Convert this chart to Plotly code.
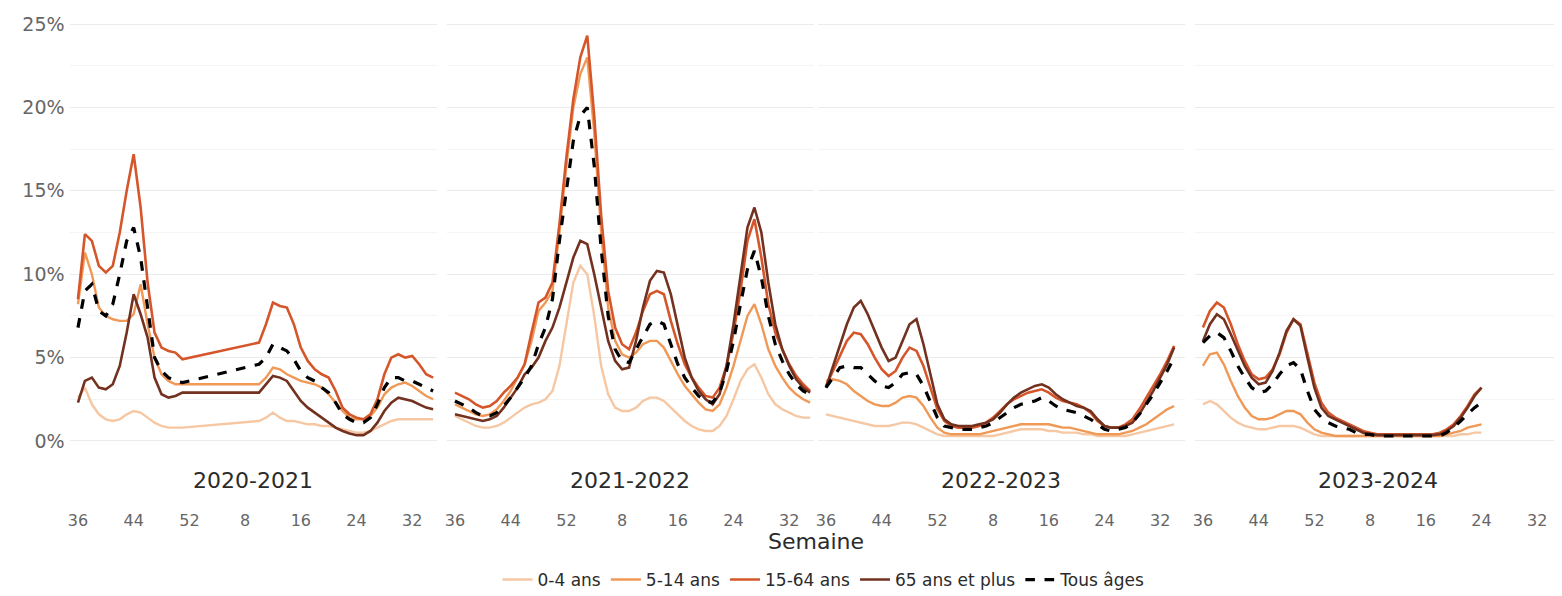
import plotly.graph_objects as go
from plotly.subplots import make_subplots

seasons = ["2020-2021", "2021-2022", "2022-2023", "2023-2024"]
groups = ["0-4 ans", "5-14 ans", "15-64 ans", "65 ans et plus", "Tous âges"]
tick_pos = [0, 8, 16, 24, 32, 40, 48]
tick_text = ["36", "44", "52", "8", "16", "24", "32"]
y_ticks = [0, 5, 10, 15, 20, 25]
y_text = ["0%", "5%", "10%", "15%", "20%", "25%"]

N = None
# 2020-2021 (weeks 36 -> 35, gap in winter)
s1_04 = [2.6, 3.2, 2.2, 1.6, 1.3, 1.2, 1.3, 1.6, 1.8, 1.7, 1.4, 1.1, 0.9, 0.8, 0.8, 0.8,
         N, N, N, N, N, N, N, N, N, N,
         1.2, 1.4, 1.7, 1.4, 1.2, 1.2, 1.1, 1.0, 1.0, 0.9, 0.9, 0.8, 0.7, 0.6, 0.5, 0.5,
         0.6, 0.8, 1.0, 1.2, 1.3, 1.3, 1.3, 1.3, 1.3, 1.3]
s1_514 = [8.2, 11.3, 10.0, 8.0, 7.5, 7.3, 7.2, 7.2, 7.6, 9.4, 7.0, 5.0, 4.0, 3.6, 3.4, 3.4,
          N, N, N, N, N, N, N, N, N, N,
          3.4, 3.8, 4.4, 4.3, 4.0, 3.8, 3.6, 3.5, 3.4, 3.2, 2.8, 2.3, 1.8, 1.4, 1.3, 1.3,
          1.5, 2.0, 2.8, 3.2, 3.4, 3.5, 3.3, 3.0, 2.7, 2.5]
s1_1564 = [8.5, 12.4, 12.0, 10.5, 10.1, 10.5, 12.5, 15.0, 17.2, 14.0, 9.5, 6.5, 5.6, 5.4, 5.3, 4.9,
           N, N, N, N, N, N, N, N, N, N,
           5.9, 7.0, 8.3, 8.1, 8.0, 7.0, 5.6, 4.8, 4.3, 4.0, 3.8, 3.0, 2.0, 1.6, 1.4, 1.3,
           1.6, 2.5, 4.0, 5.0, 5.2, 5.0, 5.1, 4.6, 4.0, 3.8]
s1_65 = [2.3, 3.6, 3.8, 3.2, 3.1, 3.4, 4.5, 6.5, 8.8, 7.6, 6.2, 3.8, 2.8, 2.6, 2.7, 2.9,
         N, N, N, N, N, N, N, N, N, N,
         2.9, 3.4, 3.9, 3.8, 3.6, 3.0, 2.4, 2.0, 1.7, 1.4, 1.1, 0.8, 0.6, 0.45, 0.35, 0.35,
         0.6, 1.1, 1.8, 2.3, 2.6, 2.5, 2.4, 2.2, 2.0, 1.9]
s1_all = [6.8, 9.0, 9.4, 7.8, 7.5, 8.2, 10.0, 12.0, 12.8, 11.0, 8.0, 5.0, 4.2, 3.8, 3.6, 3.5,
          N, N, N, N, N, N, N, N, N, N,
          4.6, 5.0, 5.8, 5.6, 5.4, 4.9, 4.2, 3.8, 3.6, 3.2, 2.9, 2.3, 1.6, 1.3, 1.1, 1.1,
          1.4, 2.2, 3.2, 3.8, 3.8, 3.6, 3.6, 3.4, 3.2, 3.0]

# 2021-2022
s2_04 = [1.5, 1.3, 1.1, 0.9, 0.8, 0.8, 0.9, 1.1, 1.4, 1.7, 2.0, 2.2, 2.3, 2.5, 3.0, 4.5,
         7.0, 9.5, 10.5, 10.0, 7.5, 4.5, 2.8, 2.0, 1.8, 1.8, 2.0, 2.4, 2.6, 2.6, 2.4, 2.0,
         1.6, 1.2, 0.9, 0.7, 0.6, 0.6, 0.9, 1.5, 2.5, 3.6, 4.3, 4.6, 3.8, 2.8, 2.2, 1.9,
         1.7, 1.5, 1.4, 1.4]
s2_514 = [2.2, 2.0, 1.8, 1.6, 1.5, 1.6, 1.9, 2.4, 3.0, 3.8, 4.6, 6.0, 7.8, 8.3, 9.0, 12.5,
          16.5, 20.0, 22.0, 23.0, 18.5, 12.5, 8.0, 6.0, 5.2, 5.0, 5.3, 5.8, 6.0, 6.0, 5.6, 4.8,
          4.0, 3.3, 2.8, 2.3, 1.9, 1.8, 2.2, 3.2, 4.5, 6.0, 7.5, 8.2, 7.0, 5.5, 4.5, 3.8,
          3.2, 2.8, 2.5, 2.3]
s2_1564 = [2.9, 2.7, 2.5, 2.2, 2.0, 2.1, 2.4, 2.9, 3.3, 3.8, 4.6, 6.5, 8.3, 8.6, 9.5, 13.0,
           17.0, 20.5, 23.0, 24.3, 19.5, 13.5, 9.0, 6.8, 5.8, 5.5, 6.5, 7.8, 8.8, 9.0, 8.8, 7.2,
           5.8, 4.6, 3.8, 3.2, 2.7, 2.6, 3.2, 4.5, 6.5, 9.0, 12.0, 13.3, 11.0, 8.2, 6.5, 5.5,
           4.6, 3.9, 3.4, 3.0]
s2_65 = [1.6, 1.5, 1.4, 1.3, 1.2, 1.3, 1.5, 2.0, 2.6, 3.2, 4.0, 4.4, 5.0, 6.0, 6.8, 8.0,
         9.5, 11.0, 12.0, 11.8, 10.0, 8.0, 6.0, 4.8, 4.3, 4.4, 6.0, 8.0, 9.6, 10.2, 10.1, 8.8,
         6.8, 5.0, 3.8, 3.0, 2.5, 2.2, 2.8, 4.5, 7.0, 10.0, 12.8, 14.0, 12.5, 9.5, 7.0, 5.5,
         4.5, 3.7, 3.2, 2.9]
s2_all = [2.4, 2.2, 2.0, 1.7, 1.5, 1.5, 1.7, 2.1, 2.6, 3.2, 3.8, 4.5, 5.8, 6.8, 8.5, 12.0,
          15.0, 18.0, 19.5, 20.0, 16.5, 11.5, 7.5, 5.5, 4.8, 4.7, 5.5, 6.3, 7.0, 7.2, 7.0, 5.8,
          4.6, 3.8, 3.2, 2.7, 2.4, 2.3, 2.9, 4.2, 6.0, 8.2, 10.3, 11.4, 9.8, 7.5, 5.8, 4.8,
          4.0, 3.4, 3.0, 2.8]

# 2022-2023
s3_04 = [1.6, 1.5, 1.4, 1.3, 1.2, 1.1, 1.0, 0.9, 0.9, 0.9, 1.0, 1.1, 1.1, 1.0, 0.8, 0.6,
         0.4, 0.3, 0.3, 0.3, 0.3, 0.3, 0.3, 0.3, 0.3,
         0.4, 0.5, 0.6, 0.7, 0.7, 0.7, 0.7, 0.6, 0.6, 0.5, 0.5, 0.5, 0.4, 0.4, 0.3, 0.3,
         0.3, 0.3, 0.3, 0.4, 0.5, 0.6, 0.7, 0.8, 0.9, 1.0]
s3_514 = [3.6, 3.7, 3.6, 3.4, 3.0, 2.7, 2.4, 2.2, 2.1, 2.1, 2.3, 2.6, 2.7, 2.6, 2.1, 1.4,
          0.8, 0.5, 0.4, 0.4, 0.4, 0.4, 0.4, 0.5, 0.6,
          0.7, 0.8, 0.9, 1.0, 1.0, 1.0, 1.0, 1.0, 0.9, 0.8, 0.8, 0.7, 0.6, 0.5, 0.4, 0.4,
          0.4, 0.4, 0.5, 0.6, 0.8, 1.0, 1.3, 1.6, 1.9, 2.1]
s3_1564 = [3.3, 4.2, 5.2, 6.0, 6.5, 6.4, 5.8, 5.0, 4.3, 3.9, 4.2, 5.0, 5.6, 5.4, 4.5, 3.2,
           1.9, 1.2, 0.9, 0.8, 0.8, 0.8, 0.9, 1.1, 1.4,
           1.8, 2.2, 2.5, 2.7, 2.9, 3.0, 3.1, 2.9, 2.6, 2.4, 2.3, 2.2, 2.0, 1.7, 1.2, 0.9,
           0.8, 0.8, 1.0, 1.3, 1.9, 2.6, 3.3, 4.0, 4.8, 5.7]
s3_65 = [3.2, 4.5, 5.8, 7.0, 8.0, 8.4, 7.6, 6.6, 5.6, 4.8, 5.0, 6.0, 7.0, 7.3, 5.8, 4.0,
         2.2, 1.3, 1.0, 0.9, 0.9, 0.9, 1.0, 1.1, 1.3,
         1.7, 2.2, 2.6, 2.9, 3.1, 3.3, 3.4, 3.2, 2.8, 2.5, 2.3, 2.1, 2.0, 1.8, 1.3, 0.9,
         0.8, 0.8, 0.9, 1.1, 1.6, 2.3, 3.0, 3.8, 4.6, 5.6]
s3_all = [3.2, 3.8, 4.4, 4.5, 4.4, 4.4, 4.0, 3.6, 3.3, 3.2, 3.5, 4.0, 4.1, 4.0, 3.3, 2.3,
          1.4, 0.9, 0.8, 0.7, 0.7, 0.7, 0.8, 0.9, 1.1,
          1.4, 1.7, 2.0, 2.2, 2.3, 2.4, 2.6, 2.4, 2.1, 1.9, 1.8, 1.7, 1.5, 1.3, 1.0, 0.7,
          0.6, 0.7, 0.8, 1.1, 1.6, 2.2, 2.8, 3.5, 4.2, 5.0]

# 2023-2024 (up to week 24)
s4_04 = [2.2, 2.4, 2.2, 1.8, 1.4, 1.1, 0.9, 0.8, 0.7, 0.7, 0.8, 0.9, 0.9, 0.9, 0.8, 0.6,
         0.4, 0.3, 0.3, 0.3, 0.3, 0.3, 0.3, 0.3, 0.3,
         0.3, 0.3, 0.3, 0.3, 0.3, 0.3, 0.3, 0.3, 0.3,
         0.3, 0.3, 0.3, 0.4, 0.4, 0.5, 0.5]
s4_514 = [4.5, 5.2, 5.3, 4.6, 3.6, 2.7, 2.0, 1.5, 1.3, 1.3, 1.4, 1.6, 1.8, 1.8, 1.6, 1.1,
          0.7, 0.5, 0.4, 0.3, 0.3, 0.3, 0.3, 0.3, 0.3,
          0.3, 0.3, 0.3, 0.3, 0.3, 0.3, 0.3, 0.3, 0.3,
          0.3, 0.4, 0.5, 0.6, 0.8, 0.9, 1.0]
s4_1564 = [6.8, 7.8, 8.3, 8.0, 7.0, 5.8, 4.8, 4.0, 3.7, 3.8, 4.3, 5.2, 6.5, 7.3, 7.0, 5.3,
           3.5, 2.3, 1.7, 1.4, 1.2, 1.0, 0.8, 0.6, 0.5,
           0.4, 0.4, 0.4, 0.4, 0.4, 0.4, 0.4, 0.4, 0.4,
           0.5, 0.7, 1.0, 1.5, 2.1, 2.8, 3.2]
s4_65 = [6.0, 7.0, 7.6, 7.3, 6.4, 5.4, 4.5, 3.8, 3.4, 3.5, 4.2, 5.3, 6.6, 7.3, 6.9, 5.0,
         3.2, 2.0, 1.5, 1.3, 1.1, 0.9, 0.7, 0.5, 0.4,
         0.35, 0.35, 0.35, 0.35, 0.35, 0.35, 0.35, 0.35, 0.35,
         0.4, 0.6, 0.9, 1.4, 2.0, 2.7, 3.2]
s4_all = [5.9, 6.3, 6.5, 6.2, 5.4, 4.5, 3.8, 3.2, 2.9, 3.0, 3.4, 4.0, 4.5, 4.7, 4.3, 3.0,
          1.9, 1.4, 1.1, 0.9, 0.8, 0.7, 0.5, 0.4, 0.4,
          0.3, 0.3, 0.3, 0.3, 0.3, 0.3, 0.3, 0.3, 0.3,
          0.3, 0.5, 0.8, 1.2, 1.6, 2.0, 2.3]

data = [
    [s1_04, s1_514, s1_1564, s1_65, s1_all],
    [s2_04, s2_514, s2_1564, s2_65, s2_all],
    [s3_04, s3_514, s3_1564, s3_65, s3_all],
    [s4_04, s4_514, s4_1564, s4_65, s4_all],
]

colors = ["#f6c7a3", "#f09856", "#d5562a", "#73311f", "#000000"]
widths = [2.4, 2.4, 2.6, 2.6, 3.2]
dashes = ["solid", "solid", "solid", "solid", "dash"]

# the page body has an 8px margin: work in screen pixels and shift
OFF = 8.0
W, H = 1554, 588
FONT = "DejaVu Sans, Liberation Sans, sans-serif"


def px(x):
    return (x - OFF) / W


def py(y):
    return 1 - (y - OFF) / H


fig = make_subplots(rows=1, cols=4, shared_yaxes=True)

lefts = [69.6, 446.6, 817.6, 1194.6]
pw = 367.0

for k, season in enumerate(seasons):
    for g, name in enumerate(groups):
        vals = data[k][g]
        fig.add_trace(
            go.Scatter(
                x=list(range(len(vals))), y=vals, mode="lines", name=name,
                line=dict(color=colors[g], width=widths[g], dash=dashes[g]),
                connectgaps=True, showlegend=(k == 0), legendgroup=name,
            ),
            row=1, col=k + 1,
        )
    ax = "xaxis" if k == 0 else f"xaxis{k+1}"
    fig.layout[ax].update(
        domain=[px(lefts[k]), px(lefts[k] + pw)],
        range=[-1.2, 51.5], tickvals=tick_pos, ticktext=tick_text,
        showgrid=False, zeroline=False, showline=False, ticks="",
        tickfont=dict(family=FONT, size=16, color="#666666"),
        ticklabelstandoff=48,
    )
    yax = "yaxis" if k == 0 else f"yaxis{k+1}"
    fig.layout[yax].update(
        domain=[py(461), py(10.7)], range=[-1.2, 25.8],
        tickvals=y_ticks, ticktext=y_text, showticklabels=(k == 0),
        showgrid=True, gridcolor="#ebebeb", gridwidth=1.2, zeroline=False,
        showline=False, ticks="", ticklabelstandoff=4,
        tickfont=dict(family=FONT, size=19, color="#666666"),
        minor=dict(dtick=2.5, tick0=0, showgrid=True, gridcolor="#f4f4f4", gridwidth=1),
    )
    fig.add_annotation(
        x=px(lefts[k] + pw / 2), y=py(480), xref="paper", yref="paper",
        text=season, showarrow=False, xanchor="center", yanchor="middle",
        font=dict(family=FONT, size=22, color="#2b2b2b"),
    )

fig.add_annotation(
    x=px((lefts[0] + lefts[3] + pw) / 2), y=py(541), xref="paper", yref="paper",
    text="Semaine", showarrow=False, xanchor="center", yanchor="middle",
    font=dict(family=FONT, size=22, color="#2b2b2b"),
)

fig.update_layout(
    width=W, height=H, margin=dict(l=0, r=0, t=0, b=0, autoexpand=False),
    paper_bgcolor="white", plot_bgcolor="white",
    showlegend=True,
    legend=dict(
        orientation="h", x=px(824), xanchor="center", y=py(580), yanchor="middle",
        font=dict(family=FONT, size=17, color="#2b2b2b"), itemwidth=30,
        bgcolor="rgba(0,0,0,0)", tracegroupgap=0,
    ),
)

fig.write_html("out.html")
